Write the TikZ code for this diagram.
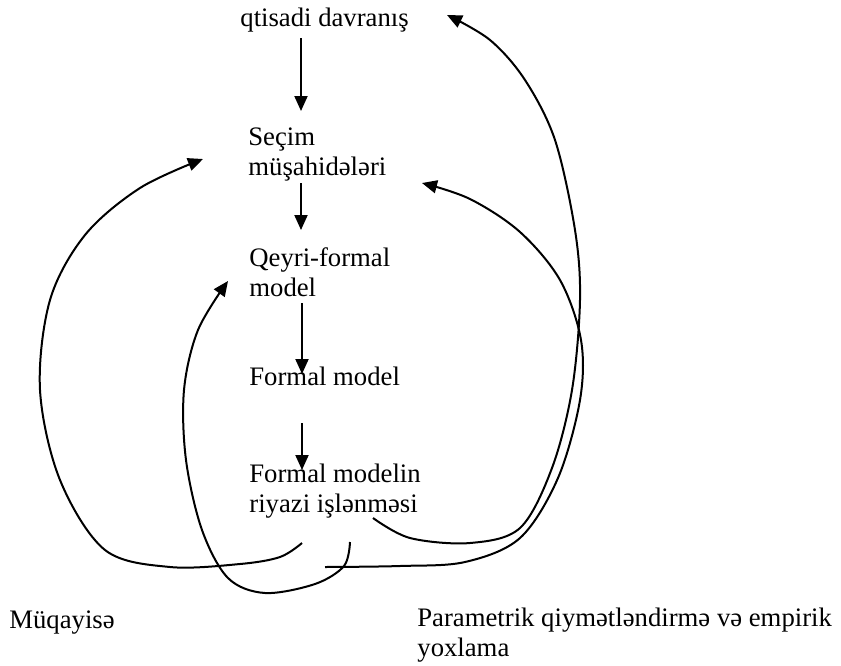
\documentclass[tikz,border=0pt]{standalone}
\usepackage{fontspec}
\setmainfont{Liberation Serif}
\usetikzlibrary{arrows.meta}
\begin{document}
\begin{tikzpicture}[x=0.5pt,y=-0.5pt,
  lbl/.style={anchor=base west,inner sep=0pt,align=left,font=\fontsize{13.35}{15}\selectfont},
  arr/.style={line width=1pt,-{Triangle[length=7.5pt,width=6.5pt]}},
  ln/.style={line width=1pt}]
\useasboundingbox (0,0) rectangle (841,665);
\node[lbl] (q) at (240,26) {qtisadi davranış};
\node[lbl] (s) at (248,175) {Seçim\\müşahidələri};
\node[lbl] (qf) at (249,296) {Qeyri-formal\\model};
\node[lbl] (fm) at (249,385) {Formal model};
\node[lbl] (fr) at (249,512) {Formal modelin\\riyazi işlənməsi};
\node[lbl] (mq) at (9,628) {Müqayisə};
\node[lbl] (pq) at (417,656) {Parametrik qiymətləndirmə və empirik\\yoxlama};
\coordinate (a1) at (301,38);  \coordinate (b1) at (301,111);
\coordinate (a2) at (301,183); \coordinate (b2) at (301,230);
\coordinate (a3) at (302,303); \coordinate (b3) at (302,374);
\coordinate (a4) at (302,423); \coordinate (b4) at (302,470);
\draw[arr] (a1) -- (b1);
\draw[arr] (a2) -- (b2);
\draw[arr] (a3) -- (b3);
\draw[arr] (a4) -- (b4);
% Muqayise loop
\coordinate (m0) at (302,543);
\coordinate (m1) at (203,159);
\draw[arr] plot[smooth,tension=0.55] coordinates {(m0) (280,557) (240,564) (170,567) (105,550) (60,480) (40,390) (50,300) (85,235) (140,188) (m1)};
% to Qeyri-formal
\coordinate (k0) at (350,542);
\coordinate (k1) at (228,281);
\draw[arr] plot[smooth,tension=0.55] coordinates {(k0) (344,566) (315,584) (265,593) (228,578) (202,530) (186,460) (184,390) (198,330) (k1)};
% riyazi -> qtisadi
\coordinate (r0) at (373,518);
\coordinate (r1) at (447,15);
\draw[arr] plot[smooth,tension=0.55] coordinates {(r0) (410,538) (470,543) (520,528) (552,468) (572,390) (580,300) (575,230) (555,140) (525,80) (490,40) (r1)};
% bottom line -> musahideleri
\coordinate (p0) at (325,567);
\coordinate (p1) at (422,183);
\draw[arr] plot[smooth,tension=0.55] coordinates {(p0) (400,566) (465,562) (520,538) (558,478) (580,400) (581,340) (560,280) (520,232) (470,199) (p1)};
\end{tikzpicture}
\end{document}
